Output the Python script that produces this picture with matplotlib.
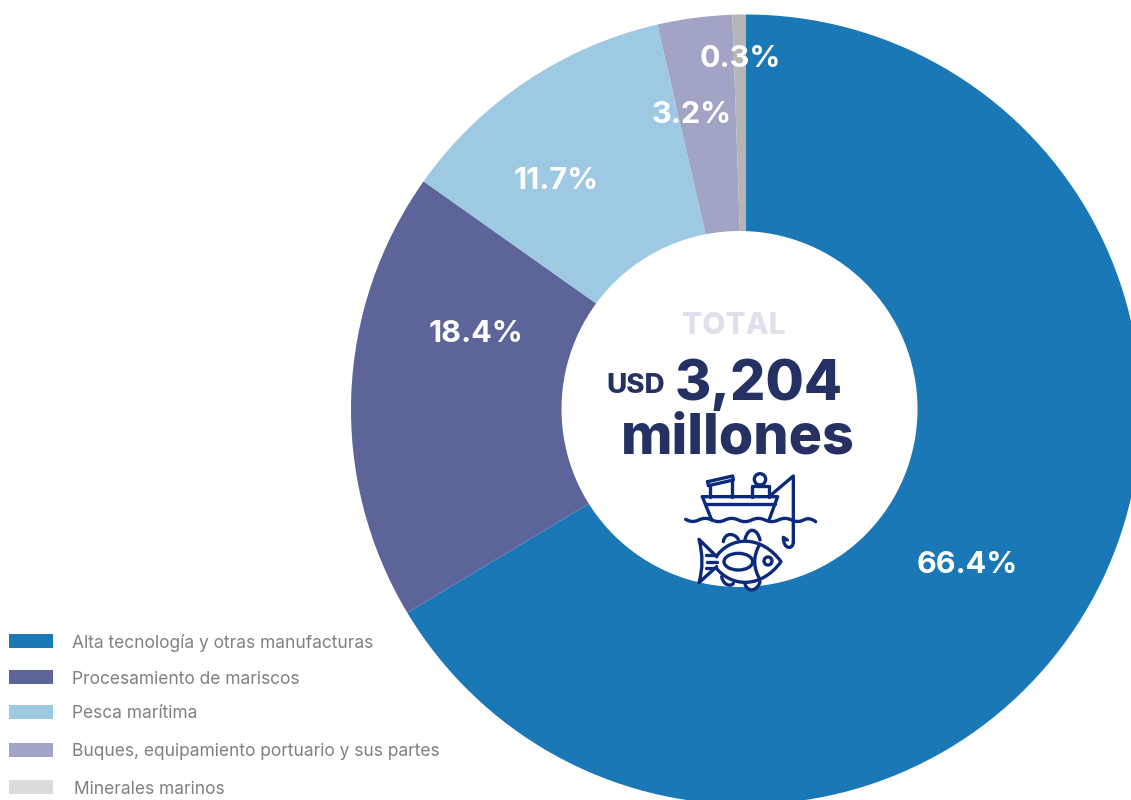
import matplotlib
matplotlib.use('Agg')
import matplotlib.pyplot as plt
from matplotlib.path import Path
from matplotlib.patches import Circle, Ellipse, PathPatch, Rectangle

plt.rcParams['font.family'] = ['Inter', 'DejaVu Sans']

# Datos
sectores = ['Alta tecnología y otras manufacturas', 'Procesamiento de mariscos', 'Pesca marítima',
            'Buques, equipamiento portuario y sus partes', 'Minerales marinos']
etiquetas = ['66.4%', '18.4%', '11.7%', '3.2%', '0.3%']
# tamaño de cada tajada tal como se ve en la imagen (la gris se ve mas ancha que su 0.3%)
valores = [66.4, 18.4, 11.6, 3.05, 0.55]
colores = ['#1b78b7', '#5c6499', '#9ec9e2', '#a1a4c4', '#b5b5b3']
colores_leyenda = ['#1b78b7', '#5c6499', '#9ec9e2', '#a1a4c4', '#dcdcda']

# Posicion en pixeles de cada etiqueta y de la leyenda
pos_etiquetas = [(967, 565), (476, 334), (556, 181), (692, 115), (740, 59)]
leyenda_y = [641, 677, 712, 750, 787]
leyenda_texto_y = [643, 679, 714, 752, 789]
leyenda_x = [72, 72.5, 72.5, 72.5, 74]

fig = plt.figure(figsize=(11.31, 8), dpi=100)
ax = fig.add_axes([0, 0, 1, 1])

# El eje va en pixeles con y hacia abajo
ax.pie(valores, colors=colores, center=(746, 409.5), radius=395, startangle=-90, counterclock=True)
ax.set_xlim(0, 1131)
ax.set_ylim(800, 0)
ax.set_aspect('auto')
ax.axis('off')

# Agujero
ax.add_patch(Circle((739.5, 409), 178, fc='white', ec='none', zorder=3))

for txt, (x, y) in zip(etiquetas, pos_etiquetas):
    ax.text(x, y, txt, color='white', fontsize=22, fontweight='bold', ha='center', va='center', zorder=5)

# Centro
ax.text(734, 326, 'TOTAL', color='#e0e0ec', fontsize=21.5, fontweight=800, ha='center', va='center', zorder=5)
ax.text(636, 386, 'USD', color='#263163', fontsize=20, fontweight=800, ha='center', va='center', zorder=5)
ax.text(759, 385, '3,204', color='#263163', fontsize=40, fontweight=800, ha='center', va='center', zorder=5)
ax.text(737.5, 438, 'millones', color='#263163', fontsize=40, fontweight=800, ha='center', va='center', zorder=5)

# Leyenda
for nombre, color, x, y, ty in zip(sectores, colores_leyenda, leyenda_x, leyenda_y, leyenda_texto_y):
    ax.add_patch(Rectangle((9, y - 7), 44, 14, fc=color, ec='none', zorder=5))
    ax.text(x, ty, nombre, color='#808080', fontsize=12.5, ha='left', va='center', zorder=5)


# Icono del barco y el pez
COLOR_ICONO = '#0b2a7c'
GROSOR = 2.4


def px(x, y):
    return 670 + x / 3, 460 + y / 3


def trazo(puntos, codigos=None, relleno='none'):
    verts = [px(*p) for p in puntos]
    ax.add_patch(PathPatch(Path(verts, codigos), fc=relleno, ec=COLOR_ICONO, lw=GROSOR, zorder=6,
                           capstyle='round', joinstyle='round'))


C3, C4, M, L = Path.CURVE3, Path.CURVE4, Path.MOVETO, Path.LINETO

trazo([(113, 65), (188, 48), (190, 60), (115, 77), (113, 65)])
trazo([(120, 77), (120, 110)])
trazo([(185, 60), (185, 110)])
trazo([(245, 110), (245, 78), (298, 78), (298, 110)])
trazo([(97, 110), (323, 110), (297, 180)])
trazo([(97, 110), (125, 180)])
trazo([(107, 133), (315, 133)])
trazo([(303, 105), (370, 48), (370, 245)])
trazo([(370, 245), (370, 270), (340, 270), (340, 232), (352, 240)], [M, C4, C4, C4, L])
trazo([(47, 178), (66, 190), (86, 180), (106, 170), (126, 180), (146, 190), (165, 180),
       (185, 170), (205, 180), (225, 190), (245, 180), (265, 170), (285, 180), (305, 190),
       (325, 180), (345, 170), (365, 180), (385, 190), (405, 178), (420, 172), (437, 185)],
      [M] + [C3] * 20)
ax.add_patch(Circle(px(270, 58), 17 / 3, fc='white', ec=COLOR_ICONO, lw=GROSOR, zorder=6))

# pez
trazo([(160, 245), (165, 215), (195, 220), (205, 238)], [M, C4, C4, C4], 'white')
trazo([(225, 238), (235, 198), (262, 205), (270, 240)], [M, C4, C4, C4], 'white')
trazo([(155, 350), (160, 378), (185, 380), (190, 370)], [M, C4, C4, C4], 'white')
trazo([(225, 372), (232, 398), (262, 395), (270, 365)], [M, C4, C4, C4], 'white')
trazo([(135, 295), (180, 225), (275, 225), (333, 305), (275, 385), (185, 385), (135, 320)],
      [M, C4, C4, C4, C4, C4, C4], 'white')
trazo([(140, 290), (87, 238), (105, 305), (87, 368), (140, 320)], [M, L, C3, C3, L], 'white')
trazo([(107, 285), (135, 285)])
trazo([(110, 305), (142, 305)])
trazo([(107, 325), (130, 325)])
trazo([(268, 255), (240, 305), (268, 355)], [M, C3, C3])
ax.add_patch(Ellipse(px(205, 305), 86 / 3, 50 / 3, fc='white', ec=COLOR_ICONO, lw=GROSOR, zorder=6))
ax.add_patch(Circle(px(294, 303), 12 / 3, fc='white', ec=COLOR_ICONO, lw=GROSOR, zorder=6))

fig.savefig('out.png', dpi=100)
